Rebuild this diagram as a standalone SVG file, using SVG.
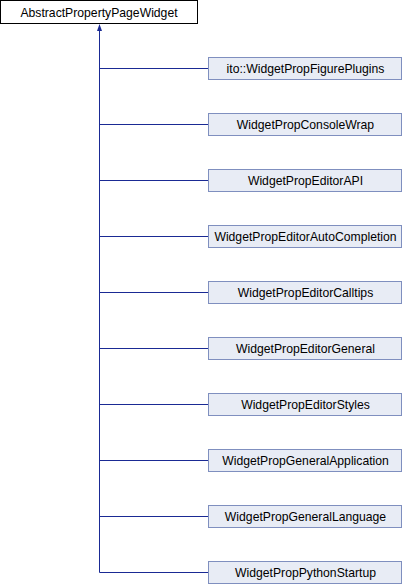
<svg xmlns="http://www.w3.org/2000/svg" width="406" height="584" viewBox="0 0 406 584">
<style>
.root{fill:#ffffff;stroke:#000000;stroke-width:1}
.node{fill:#e8ecf5;stroke:#7f8fbf;stroke-width:1}
text{font-family:"Liberation Sans",Arial,sans-serif;font-size:12.2px;fill:#000000;text-anchor:middle}
.edge{stroke:#1a2a94;stroke-width:1;fill:none}
</style>
<defs>
<marker id="arr" viewBox="0 0 8 8" refX="0" refY="4" markerWidth="8" markerHeight="8" markerUnits="userSpaceOnUse" orient="auto">
<path d="M0,1.5 L7,4 L0,6.5 Z" fill="#1a2a94" stroke="none"/>
</marker>
</defs>
<rect width="406" height="584" fill="#ffffff"/>
<g id="connectors">
<path class="edge" d="M99.5,572.5 V31" marker-end="url(#arr)"/>
<path class="edge" d="M99.5,68.5 H208"/>
<path class="edge" d="M99.5,124.5 H208"/>
<path class="edge" d="M99.5,180.5 H208"/>
<path class="edge" d="M99.5,236.5 H208"/>
<path class="edge" d="M99.5,292.5 H208"/>
<path class="edge" d="M99.5,348.5 H208"/>
<path class="edge" d="M99.5,404.5 H208"/>
<path class="edge" d="M99.5,460.5 H208"/>
<path class="edge" d="M99.5,516.5 H208"/>
<path class="edge" d="M99.5,572.5 H208"/>
</g>
<g id="AbstractPropertyPageWidget"><rect class="root" x="0.5" y="0.5" width="197" height="23"/><text x="99" y="16.5">AbstractPropertyPageWidget</text></g>
<g id="WidgetPropFigurePlugins"><rect class="node" x="208.5" y="57.5" width="193" height="22"/><text x="305.5" y="73">ito::WidgetPropFigurePlugins</text></g>
<g id="WidgetPropConsoleWrap"><rect class="node" x="208.5" y="113.5" width="193" height="22"/><text x="305.5" y="129">WidgetPropConsoleWrap</text></g>
<g id="WidgetPropEditorAPI"><rect class="node" x="208.5" y="169.5" width="193" height="22"/><text x="305.5" y="185">WidgetPropEditorAPI</text></g>
<g id="WidgetPropEditorAutoCompletion"><rect class="node" x="208.5" y="225.5" width="193" height="22"/><text x="305.5" y="241">WidgetPropEditorAutoCompletion</text></g>
<g id="WidgetPropEditorCalltips"><rect class="node" x="208.5" y="281.5" width="193" height="22"/><text x="305.5" y="297">WidgetPropEditorCalltips</text></g>
<g id="WidgetPropEditorGeneral"><rect class="node" x="208.5" y="337.5" width="193" height="22"/><text x="305.5" y="353">WidgetPropEditorGeneral</text></g>
<g id="WidgetPropEditorStyles"><rect class="node" x="208.5" y="393.5" width="193" height="22"/><text x="305.5" y="409">WidgetPropEditorStyles</text></g>
<g id="WidgetPropGeneralApplication"><rect class="node" x="208.5" y="449.5" width="193" height="22"/><text x="305.5" y="465">WidgetPropGeneralApplication</text></g>
<g id="WidgetPropGeneralLanguage"><rect class="node" x="208.5" y="505.5" width="193" height="22"/><text x="305.5" y="521">WidgetPropGeneralLanguage</text></g>
<g id="WidgetPropPythonStartup"><rect class="node" x="208.5" y="561.5" width="193" height="22"/><text x="305.5" y="577">WidgetPropPythonStartup</text></g>
</svg>
